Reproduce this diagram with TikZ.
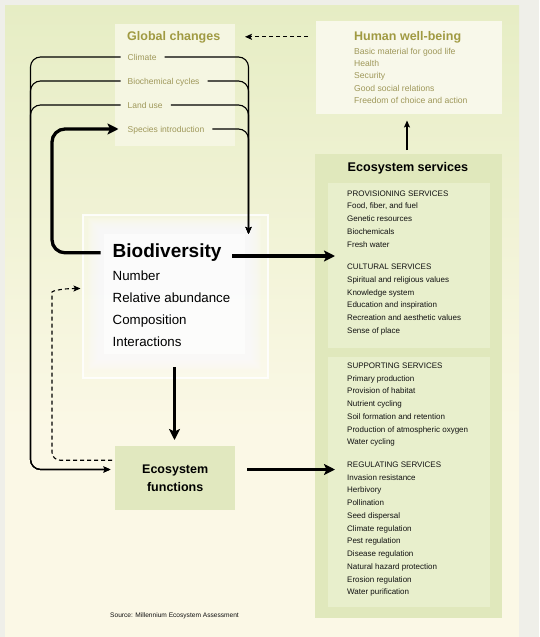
\documentclass[tikz,border=0pt]{standalone}
\usepackage{fontspec}
\setmainfont{Liberation Sans}
\usetikzlibrary{arrows.meta,calc}
\definecolor{outerbg}{HTML}{EFEFE9}
\definecolor{panelTop}{HTML}{E6EDC4}
\definecolor{panelBot}{HTML}{FBF8E6}
\definecolor{gcfill}{HTML}{F5F6E2}
\definecolor{hwfill}{HTML}{F8F8EA}
\definecolor{esfill}{HTML}{E0E8BC}
\definecolor{esinner}{HTML}{E8EFCC}
\definecolor{effill}{HTML}{E1E8BF}
\definecolor{olivetitle}{HTML}{A09A42}
\definecolor{oliveitem}{HTML}{9F985A}
\definecolor{estext}{HTML}{111111}
\begin{document}
\begin{tikzpicture}[x=1pt,y=-1pt,
  every node/.style={inner sep=0pt, anchor=base west},
  boxnode/.style={anchor=north west, draw=none, minimum width=#1},
  gctitle/.style={font=\bfseries\fontsize{12.5}{14}\selectfont, text=olivetitle},
  gcitem/.style={font=\fontsize{8.5}{10}\selectfont, text=oliveitem, text height=6pt, text depth=0pt},
  hwitem/.style={font=\fontsize{8.6}{10}\selectfont, text=oliveitem},
  esitem/.style={font=\fontsize{8}{10}\selectfont, text=estext},
  bioitem/.style={font=\fontsize{13.3}{15}\selectfont},
  thinline/.style={line width=1.1pt, draw=black},
  thintip/.style={-{Stealth[length=7pt,width=6pt,inset=1.5pt]}},
  bigline/.style={line width=3.3pt, draw=black, -{Stealth[length=11pt,width=11pt,inset=2.5pt]}},
  dashline/.style={line width=1.1pt, dash pattern=on 4pt off 3pt}
]
\useasboundingbox (0,0) rectangle (539,637);
% background
\fill[outerbg] (0,0) rectangle (539,637);
\fill[top color=panelTop, bottom color=panelBot] (5,5) rectangle (519,430);
\fill[panelBot] (5,430) rectangle (519,637);

% boxes
\node[boxnode=119.5pt, minimum height=121.5pt, fill=gcfill] (gcbox) at (115,24) {};
\node[boxnode=186pt, minimum height=93.5pt, fill=hwfill] (hwbox) at (316,20.5) {};
\node[boxnode=187pt, minimum height=464pt, fill=esfill] (esbox) at (315,154) {};
\node[boxnode=162pt, minimum height=165pt, fill=esinner] (inner1) at (328,183) {};
\node[boxnode=162pt, minimum height=250pt, fill=esinner] (inner2) at (328,357) {};
\node[boxnode=120pt, minimum height=64pt, fill=effill] (efbox) at (115,446) {};

% biodiversity frame and glow
\node[boxnode=185pt, minimum height=162.5pt, fill=white, fill opacity=0.3, draw=white, draw opacity=0.85, line width=2.2pt] (bioframe) at (82,214) {};
\foreach \d in {12,11,...,0}
  \fill[white, opacity=0.12] (100-\d,230-\d) rectangle (249+\d,358+\d);
\fill[white, opacity=0.6] (104,234) rectangle (245,354);

% Global changes
\node[gctitle] (gct) at (127,40) {Global changes};
\node[gcitem] (gc1) at (127.5,60) {Climate};
\node[gcitem] (gc2) at (127.5,84) {Biochemical cycles};
\node[gcitem] (gc3) at (127.5,108) {Land use};
\node[gcitem] (gc4) at (127.5,132) {Species introduction};

% Human well-being
\node[gctitle] (hwt) at (354,40) {Human well-being};
\foreach \t [count=\i] in {{Basic material for good life},{Health},{Security},{Good social relations},{Freedom of choice and action}}
  \node[hwitem] (hw\i) at (354,{54.3+12.25*(\i-1)}) {\t};

% Ecosystem services
\node[font=\bfseries\fontsize{12.6}{14}\selectfont] (est) at (347.5,171.7) {Ecosystem services};
\foreach \t [count=\i] in {{PROVISIONING SERVICES},{Food, fiber, and fuel},{Genetic resources},{Biochemicals},{Fresh water}}
  \node[esitem] (pa\i) at (347,{196+12.75*(\i-1)}) {\t};
\foreach \t [count=\i] in {{CULTURAL SERVICES},{Spiritual and religious values},{Knowledge system},{Education and inspiration},{Recreation and aesthetic values},{Sense of place}}
  \node[esitem] (pb\i) at (347,{269.7+12.75*(\i-1)}) {\t};
\foreach \t [count=\i] in {{SUPPORTING SERVICES},{Primary production},{Provision of habitat},{Nutrient cycling},{Soil formation and retention},{Production of atmospheric oxygen},{Water cycling}}
  \node[esitem] (pc\i) at (347,{368.3+12.75*(\i-1)}) {\t};
\foreach \t [count=\i] in {{REGULATING SERVICES},{Invasion resistance},{Herbivory},{Pollination},{Seed dispersal},{Climate regulation},{Pest regulation},{Disease regulation},{Natural hazard protection},{Erosion regulation},{Water purification}}
  \node[esitem] (pd\i) at (347,{467.3+12.75*(\i-1)}) {\t};

% Biodiversity
\node[font=\bfseries\fontsize{19}{21}\selectfont] (biot) at (112.5,257.7) {Biodiversity};
\node[bioitem] (bio1) at (112.5,280) {Number};
\node[bioitem] (bio2) at (112.5,302.3) {Relative abundance};
\node[bioitem] (bio3) at (112.5,324.7) {Composition};
\node[bioitem] (bio4) at (112.5,346.7) {Interactions};

% Ecosystem functions
\node[anchor=center, align=center, font=\bfseries\fontsize{12.5}{18}\selectfont] (eft) at (efbox.center) {Ecosystem\\functions};

% Source
\node[font=\fontsize{6.6}{8}\selectfont, text=estext] (src) at (110,617.3) {Source: Millennium Ecosystem Assessment};

% coordinates
\coordinate (bioIn) at (248.5,234);
\coordinate (leftRail) at (30.5,469.5);
\coordinate (efIn) at (110.5,469.5);
\coordinate (thickRail) at (52,129);
\coordinate (bioOutA) at (232,256);
\coordinate (bioOutB) at (335,256);
\coordinate (efOutA) at (247,469.5);
\coordinate (efOutB) at (335,469.5);
\coordinate (downA) at (174.5,367);
\coordinate (downB) at (174.5,440);
\coordinate (upA) at (407,150);
\coordinate (upB) at (407,120.5);
\coordinate (dashTopA) at (308,36.8);
\coordinate (dashTopB) at (245,36.8);
\coordinate (dashRail) at (52,300);
\coordinate (dashEnd) at (80.5,288.5);

% thin connectors from global changes
\foreach \n in {gc1,gc2,gc3,gc4}
  \draw[thinline, thintip, rounded corners=10pt, shorten <=8pt] (\n.east) -| (bioIn);
\foreach \n in {gc1,gc2,gc3}
  \draw[thinline, thintip, rounded corners=10pt, shorten <=7pt] (\n.west) -| (leftRail) -- (efIn);

% thick connectors
\draw[bigline, rounded corners=13pt, shorten <=12pt, shorten >=9pt] (biot.west) -| (thickRail) -- (gc4.west);
\draw[bigline] (bioOutA) -- (bioOutB);
\draw[bigline] (efOutA) -- (efOutB);
\draw[bigline] (downA) -- (downB);

% up arrow
\draw[line width=1.5pt, thintip] (upA) -- (upB);

% dashed arrows
\draw[dashline, thintip] (dashTopA) -- (dashTopB);
\draw[dashline, thintip, rounded corners=8pt] ($(efbox.west)+(-3,-18)$) -| (dashRail) .. controls (52,291) and (62,288.5) .. (dashEnd);
\end{tikzpicture}
\end{document}
